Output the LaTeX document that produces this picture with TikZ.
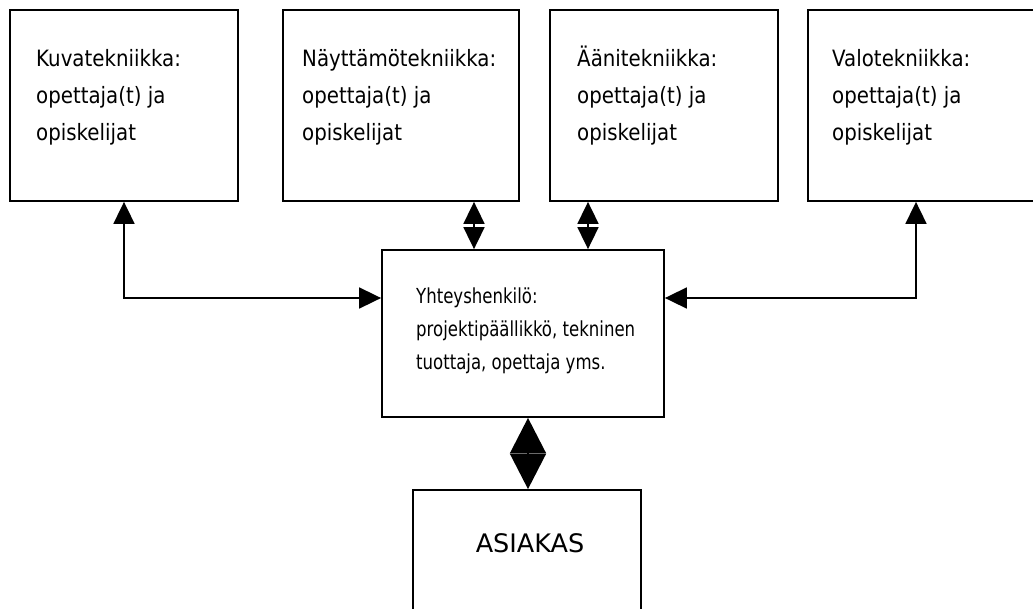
\documentclass[tikz,border=0pt]{standalone}
\usepackage{fontspec}
\setmainfont{DejaVu Sans}[FakeStretch=0.88]
\newfontfamily\narrowfont{DejaVu Sans}[FakeStretch=0.8]
\newfontfamily\capsfont{DejaVu Sans}
\usetikzlibrary{arrows.meta}
\begin{document}
\begin{tikzpicture}[x=1pt,y=-1pt,
  box/.style={draw, line width=1.8pt, inner sep=0pt},
  lbl/.style={anchor=north west, inner sep=0pt, align=left,
              font=\fontsize{22.5}{37}\selectfont},
  mid/.style={anchor=north west, inner sep=0pt, align=left,
              font=\narrowfont\fontsize{20.7}{33}\selectfont},
  arr/.style={line width=1.8pt,
              {Triangle[length=22pt,width=21pt]}-{Triangle[length=22pt,width=21pt]}},
  dia/.style={line width=1.8pt,
              {Triangle[length=35.5pt,width=36pt]}-{Triangle[length=35.5pt,width=36pt]}}]
\useasboundingbox (0,0) rectangle (1033,608);
\fill[white] (0,0) rectangle (1033,608);
\clip (0,0) rectangle (1033,608);

% top row: the four departments
\node[box, minimum width=228pt, minimum height=191pt] (kuva) at (124,105.5) {};
\node[box, minimum width=236pt, minimum height=191pt] (nayt) at (401,105.5) {};
\node[box, minimum width=228pt, minimum height=191pt] (aani) at (664,105.5) {};
\node[box, minimum width=242pt, minimum height=191pt] (valo) at (929,105.5) {};

% contact person and client
\node[box, minimum width=282pt, minimum height=167pt] (yht) at (523,333.5) {};
\node[box, minimum width=228pt, minimum height=130pt] (asi) at (527,555) {};

% labels
\node[lbl] (tkuva) at (36,43) {\rule{0pt}{23pt}Kuvatekniikka:\\opettaja(t) ja\\opiskelijat};
\node[lbl] (tnayt) at (302,43) {\rule{0pt}{23pt}Näyttämötekniikka:\\opettaja(t) ja\\opiskelijat};
\node[lbl] (taani) at (577,43) {\rule{0pt}{23pt}Äänitekniikka:\\opettaja(t) ja\\opiskelijat};
\node[lbl] (tvalo) at (832,43) {\rule{0pt}{23pt}Valotekniikka:\\opettaja(t) ja\\opiskelijat};
\node[mid] (tyht) at (416,284) {\rule{0pt}{19pt}Yhteyshenkilö:\\projektipäällikkö, tekninen\\tuottaja, opettaja yms.};
\node[anchor=base, inner sep=0pt, font=\capsfont\fontsize{25.5}{30}\selectfont] (tasi) at (530,552) {ASIAKAS};

% connectors
\draw[arr] (kuva.south) |- ([yshift=35.5pt]yht.west);
\draw[arr] ([xshift=-13pt]valo.south) |- ([yshift=35.5pt]yht.east);
\draw[arr] ([xshift=73pt]nayt.south) -- ([xshift=73pt]nayt.south |- yht.north);
\draw[arr] ([xshift=-76pt]aani.south) -- ([xshift=-76pt]aani.south |- yht.north);
\draw[dia] ([xshift=5pt]yht.south) -- ([xshift=5pt]yht.south |- asi.north);
\end{tikzpicture}
\end{document}
